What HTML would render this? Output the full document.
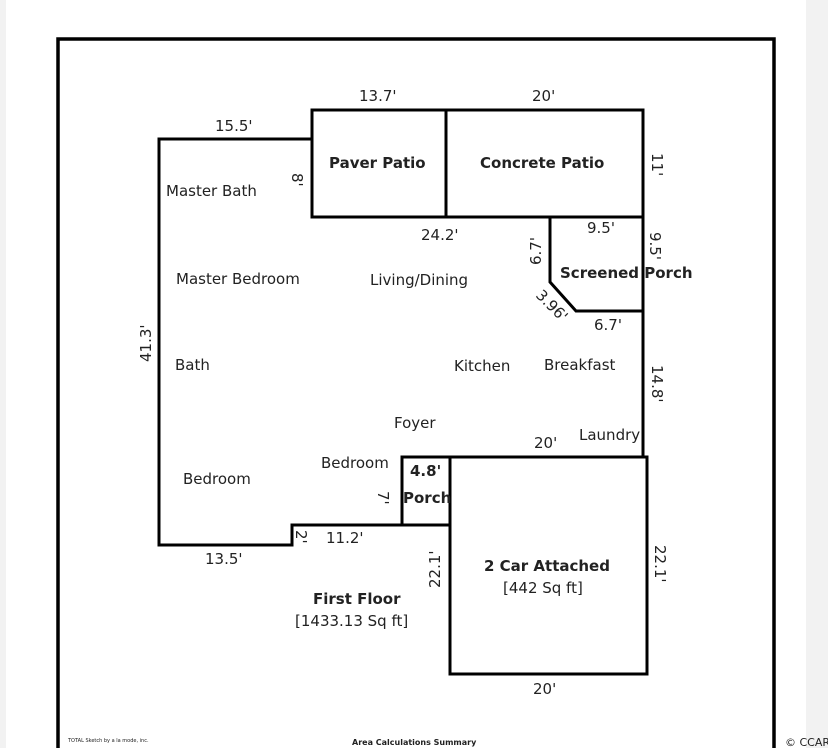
<!DOCTYPE html>
<html><head><style>
html,body{margin:0;padding:0;background:#fff;}
body{width:828px;height:748px;overflow:hidden;position:relative;}
svg{position:absolute;left:0;top:0;}
text{font-family:"DejaVu Sans","Liberation Sans",sans-serif;font-size:15px;fill:#222;}
.b{font-weight:bold;}
</style></head><body>
<svg width="828" height="748" viewBox="0 0 828 748">
<rect x="0" y="0" width="6" height="748" fill="#f2f2f2"/>
<rect x="806" y="0" width="22" height="748" fill="#f2f2f2"/>
<rect x="58" y="39" width="716" height="712" fill="#fff" stroke="#000" stroke-width="3.5"/>
<g fill="none" stroke="#000" stroke-width="3">
<polyline points="312,139 159,139 159,545 292,545 292,525 402,525"/>
<rect x="312" y="110" width="134" height="107"/>
<rect x="446" y="110" width="197" height="107"/>
<polyline points="550,217 550,282 576,311 643,311"/>
<line x1="643" y1="217" x2="643" y2="457"/>
<rect x="450" y="457" width="197" height="217"/>
<polyline points="450,457 402,457 402,525 450,525"/>
</g>
<text x="359" y="101">13.7'</text>
<text x="532" y="101">20'</text>
<text x="215" y="131">15.5'</text>
<text x="329" y="168" class="b">Paver Patio</text>
<text x="480" y="168" class="b">Concrete Patio</text>
<text transform="translate(652,153) rotate(90)">11'</text>
<text transform="translate(292,173) rotate(90)">8'</text>
<text x="166" y="196">Master Bath</text>
<text x="421" y="240">24.2'</text>
<text x="587" y="233">9.5'</text>
<text transform="translate(650,232) rotate(90)">9.5'</text>
<text transform="translate(541,265) rotate(-90)">6.7'</text>
<text x="560" y="278" class="b">Screened Porch</text>
<text transform="translate(535,296) rotate(45)">3.96'</text>
<text x="594" y="330">6.7'</text>
<text x="176" y="284">Master Bedroom</text>
<text x="370" y="285">Living/Dining</text>
<text transform="translate(151,362) rotate(-90)">41.3'</text>
<text x="175" y="370">Bath</text>
<text x="454" y="371">Kitchen</text>
<text x="544" y="370">Breakfast</text>
<text transform="translate(652,365) rotate(90)">14.8'</text>
<text x="394" y="428">Foyer</text>
<text x="579" y="440">Laundry</text>
<text x="534" y="448">20'</text>
<text x="321" y="468">Bedroom</text>
<text x="410" y="476" class="b">4.8'</text>
<text x="183" y="484">Bedroom</text>
<text transform="translate(378,491) rotate(90)">7'</text>
<text x="403" y="503" class="b">Porch</text>
<text transform="translate(296,530) rotate(90)">2'</text>
<text x="326" y="543">11.2'</text>
<text x="205" y="564">13.5'</text>
<text transform="translate(440,588) rotate(-90)">22.1'</text>
<text x="484" y="571" class="b">2 Car Attached</text>
<text x="503" y="593">[442 Sq ft]</text>
<text transform="translate(655,545) rotate(90)">22.1'</text>
<text x="313" y="604" class="b">First Floor</text>
<text x="295" y="626">[1433.13 Sq ft]</text>
<text x="533" y="694">20'</text>
<text x="68" y="742" style="font-size:5px">TOTAL Sketch by a la mode, inc.</text>
<text x="352" y="745" style="font-size:8px;font-weight:bold">Area Calculations Summary</text>
<text x="785" y="746" style="font-size:11px">© CCAR</text>
</svg>
</body></html>
